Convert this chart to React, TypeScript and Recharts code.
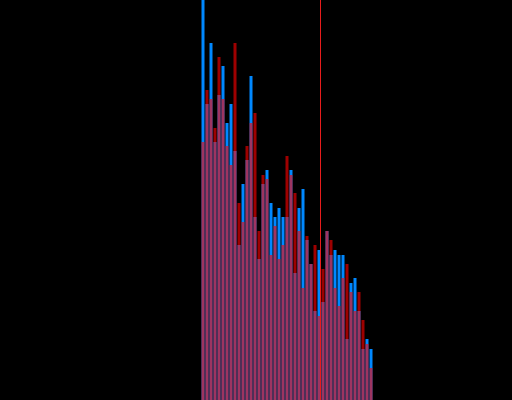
import React from 'react'
import { BarChart, Bar, XAxis, YAxis, ReferenceLine } from 'recharts'

// bin index for each histogram bar
const bins = Array.from({ length: 43 }, (_, i) => i)

const blueCounts = [
  100, 74, 89.25, 64.5, 76.25, 83.5, 69.25, 74, 62.25, 38.75, 54, 60,
  81, 45.75, 35.25, 54, 57.5, 49.25, 45.75, 48, 45.75, 45.75, 57.5, 31.75,
  48, 52.75, 40, 34, 22.25, 37.5, 24.5, 42.25, 36.25, 37.5, 36.25, 36.25,
  15.25, 29.25, 30.5, 22.25, 12.75, 15.25, 12.75
]

const redCounts = [
  64.5, 77.5, 75.25, 68, 85.75, 75.25, 63.5, 58.75, 89.25, 49.25, 44.5, 63.5,
  69.25, 71.75, 42.25, 56.25, 55.25, 36.25, 43.5, 35.25, 38.75, 61, 56.25, 51.75,
  42.25, 28, 41, 34, 38.75, 21, 32.75, 42.25, 40, 28, 23.5, 30.5,
  34, 27, 22.25, 27, 20, 14, 8
]

const markerBin = 29.5

const data = bins.map((b, i) => ({ bin: b, blue: blueCounts[i], red: redCounts[i] }))

export default function App(): JSX.Element {
  return (
    <div style={{ position: 'absolute', left: 0, top: 0, width: 512, height: 400, background: '#000' }}>
      <BarChart width={512} height={400} data={data} margin={{ top: 0, right: 0, bottom: 0, left: 0 }}>
        <XAxis xAxisId="a" dataKey="bin" type="number" domain={[-50.625, 77.375]} hide allowDataOverflow />
        <XAxis xAxisId="b" dataKey="bin" type="number" domain={[-50.625, 77.375]} hide allowDataOverflow />
        <YAxis domain={[0, 100]} hide allowDataOverflow />
        <Bar xAxisId="a" dataKey="blue" fill="#0088ff" barSize={3} isAnimationActive={false} />
        <Bar xAxisId="b" dataKey="red" fill="#ff0000" fillOpacity={0.62} barSize={3} isAnimationActive={false} />
        <ReferenceLine xAxisId="a" x={markerBin} stroke="#e81c1c" strokeWidth={1} ifOverflow="extendDomain" />
      </BarChart>
    </div>
  )
}
